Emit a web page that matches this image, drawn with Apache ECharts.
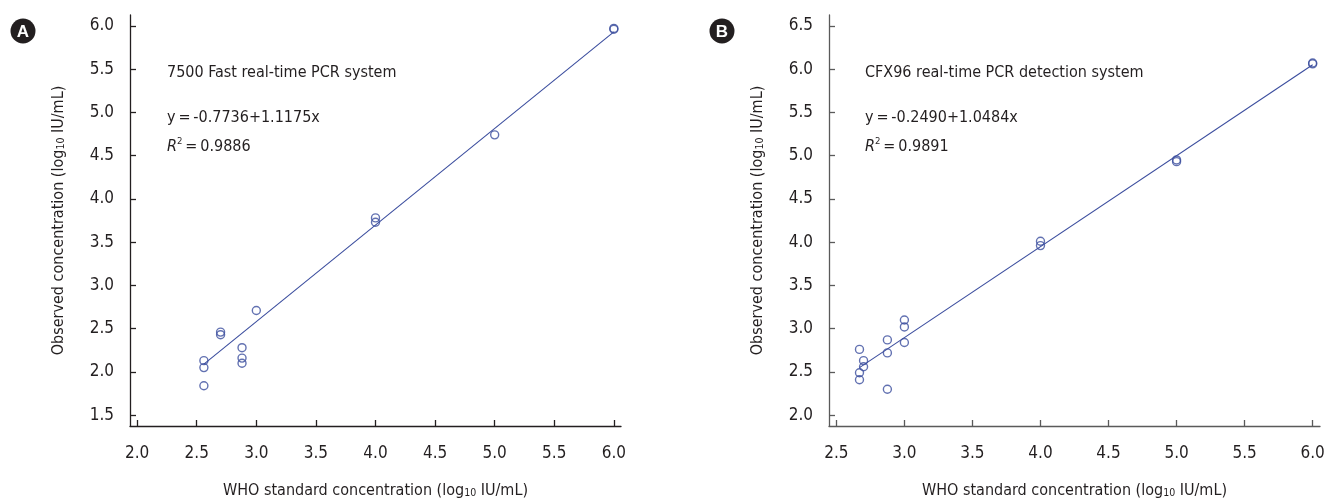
<!DOCTYPE html>
<html>
<head>
<meta charset="utf-8">
<script src="https://cdn.jsdelivr.net/npm/echarts@6/dist/echarts.min.js"></script>
<style>
html,body{margin:0;padding:0;background:#fff;}
#chart{width:1328px;height:504px;}
</style>
</head>
<body>
<div id="chart"></div>
<script>
// ---- data ----
const xTicksA = [2.0, 2.5, 3.0, 3.5, 4.0, 4.5, 5.0, 5.5, 6.0];
const yTicksA = [1.5, 2.0, 2.5, 3.0, 3.5, 4.0, 4.5, 5.0, 5.5, 6.0];
const xTicksB = [2.5, 3.0, 3.5, 4.0, 4.5, 5.0, 5.5, 6.0];
const yTicksB = [2.0, 2.5, 3.0, 3.5, 4.0, 4.5, 5.0, 5.5, 6.0, 6.5];

const pointsAx = [2.56, 2.56, 2.56, 2.70, 2.70, 2.88, 2.88, 2.88, 3.00, 4.00, 4.00, 5.00, 6.00, 6.00];
const pointsAy = [2.13, 2.05, 1.84, 2.46, 2.43, 2.28, 2.16, 2.10, 2.71, 3.78, 3.73, 4.74, 5.96, 5.97];
const fitAx = [2.56, 6.00];
const fitAy = [2.09, 5.93];

const pointsBx = [2.67, 2.67, 2.67, 2.70, 2.70, 2.875, 2.875, 2.875, 3.00, 3.00, 3.00, 4.00, 4.00, 5.00, 5.00, 6.00, 6.00];
const pointsBy = [2.76, 2.49, 2.41, 2.63, 2.56, 2.87, 2.72, 2.30, 3.10, 3.02, 2.84, 4.01, 3.96, 4.95, 4.93, 6.07, 6.06];
const fitBx = [2.67, 6.00];
const fitBy = [2.55, 6.05];

const titleA = '7500 Fast real-time PCR system';
const eqA = 'y\u2009=\u2009-0.7736+1.1175x';
const r2A = '0.9886';
const titleB = 'CFX96 real-time PCR detection system';
const eqB = 'y\u2009=\u2009-0.2490+1.0484x';
const r2B = '0.9891';

const xName = 'WHO standard concentration (log{sub|10} IU/mL)';
const yName = 'Observed concentration (log{sub|10} IU/mL)';

// ---- styles ----
const FONT = '"Liberation Sans Narrow", "DejaVu Sans Condensed", sans-serif';
const TXT = '#231f20';
const BLUE = '#3b4d9e';

function zip(a, b) { return a.map((v, i) => [v, b[i]]); }

const nameRich = {
  sub: { fontFamily: FONT, fontSize: 10.5, color: TXT, verticalAlign: 'bottom', lineHeight: 14 }
};

function xAxis(grid, min, max, ticks, axisColor) {
  return {
    type: 'value', gridIndex: grid, min: min, max: max,
    name: xName, nameLocation: 'middle', nameGap: 57,
    nameTextStyle: { fontFamily: FONT, fontSize: 16, color: TXT, rich: nameRich },
    axisLine: { show: true, onZero: false, lineStyle: { color: axisColor, width: 1.3 } },
    axisTick: { show: true, inside: true, length: 6, customValues: ticks, lineStyle: { color: axisColor, width: 1.3 } },
    axisLabel: { customValues: ticks, margin: 19, fontFamily: FONT, fontSize: 17, color: TXT, formatter: v => v.toFixed(1) },
    splitLine: { show: false }
  };
}
function yAxis(grid, min, max, ticks, axisColor) {
  return {
    type: 'value', gridIndex: grid, min: min, max: max,
    name: yName, nameLocation: 'middle', nameGap: 63, nameRotate: 90,
    nameTextStyle: { fontFamily: FONT, fontSize: 16, color: TXT, rich: nameRich },
    axisLine: { show: true, onZero: false, lineStyle: { color: axisColor, width: 1.3 } },
    axisTick: { show: true, inside: true, length: 6, customValues: ticks, lineStyle: { color: axisColor, width: 1.3 } },
    axisLabel: { customValues: ticks, margin: 16, fontFamily: FONT, fontSize: 17, color: TXT, formatter: v => v.toFixed(1) },
    splitLine: { show: false }
  };
}

function scatter(idx, data) {
  return {
    type: 'scatter', xAxisIndex: idx, yAxisIndex: idx, data: data,
    symbol: 'circle', symbolSize: 8, z: 3,
    itemStyle: { color: 'rgba(0,0,0,0)', borderColor: BLUE, borderWidth: 1.4 },
    emphasis: { disabled: true }, silent: true
  };
}
function fit(idx, data) {
  return {
    type: 'line', xAxisIndex: idx, yAxisIndex: idx, data: data,
    symbol: 'none', z: 2, lineStyle: { color: BLUE, width: 1.1 }, silent: true
  };
}

function badge(cx, cy, letter) {
  return [
    { type: 'circle', shape: { cx: cx, cy: cy, r: 12.5 }, style: { fill: '#231f20' } },
    { type: 'text', x: cx, y: cy + 1, style: { text: letter, fill: '#fff', font: 'bold 17px "Liberation Sans", Arial, sans-serif', align: 'center', verticalAlign: 'middle' } }
  ];
}
function annot(x, title, eq, r2) {
  const f = '16px ' + FONT;
  return [
    { type: 'text', x: x, y: 73, style: { text: title, font: f, fill: TXT, verticalAlign: 'middle' } },
    { type: 'text', x: x, y: 118, style: { text: eq, font: f, fill: TXT, verticalAlign: 'middle' } },
    { type: 'text', x: x, y: 147, style: {
      text: '{i|R}{s|2}{n|\u2009=\u2009' + r2 + '}', verticalAlign: 'middle', fill: TXT,
      rich: {
        i: { fontFamily: FONT, fontSize: 16, fontStyle: 'italic', fill: TXT, lineHeight: 20 },
        s: { fontFamily: FONT, fontSize: 9.5, fill: TXT, verticalAlign: 'top', lineHeight: 20 },
        n: { fontFamily: FONT, fontSize: 16, fill: TXT, lineHeight: 20 }
      } } }
  ];
}

const chart = echarts.init(document.getElementById('chart'), null, { renderer: 'canvas' });
chart.setOption({
  animation: false,
  backgroundColor: '#fff',
  grid: [
    { left: 130, top: 15, width: 491, height: 415 },
    { left: 829, top: 15, width: 491, height: 415 }
  ],
  xAxis: [
    xAxis(0, 1.94, 6.06, xTicksA, '#231f20'),
    xAxis(1, 2.446, 6.054, xTicksB, '#5a5a5a')
  ],
  yAxis: [
    yAxis(0, 1.375, 6.125, yTicksA, '#231f20'),
    yAxis(1, 1.875, 6.625, yTicksB, '#5a5a5a')
  ],
  series: [
    fit(0, zip(fitAx, fitAy)),
    scatter(0, zip(pointsAx, pointsAy)),
    fit(1, zip(fitBx, fitBy)),
    scatter(1, zip(pointsBx, pointsBy))
  ],
  graphic: [].concat(
    badge(23, 31, 'A'), badge(722, 31, 'B'),
    annot(167, titleA, eqA, r2A), annot(865, titleB, eqB, r2B)
  )
});
</script>
</body>
</html>
